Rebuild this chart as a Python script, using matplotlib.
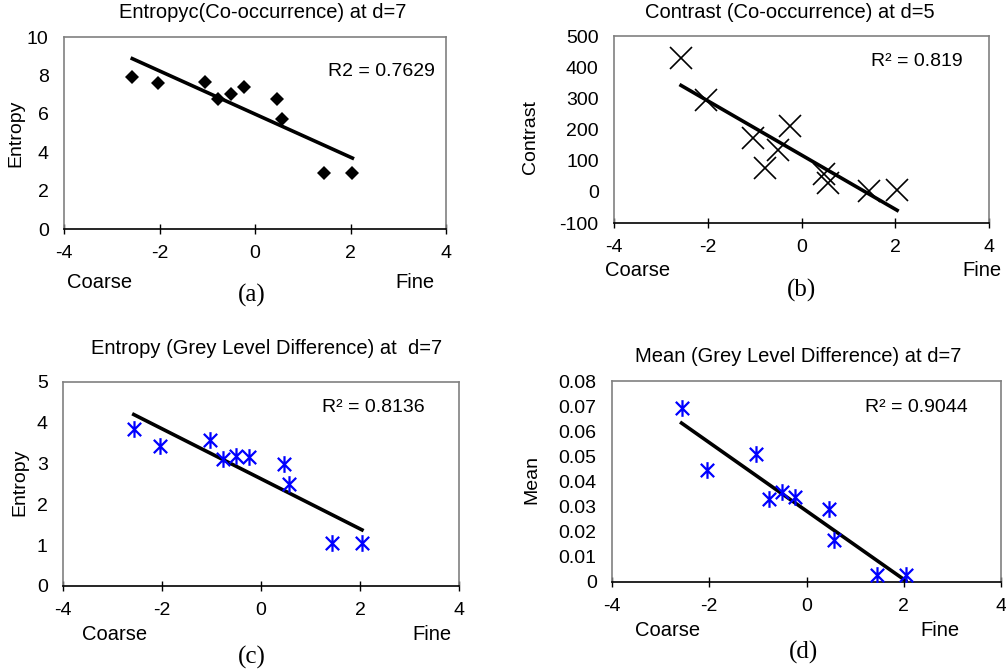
import numpy as np
import matplotlib
matplotlib.use('Agg')
import matplotlib.pyplot as plt
from matplotlib.path import Path

plt.rcParams['font.family'] = ['Liberation Sans', 'DejaVu Sans']
plt.rcParams['axes.unicode_minus'] = False

# coarseness score of the 10 samples (same for every panel)
x_data = [-2.57, -2.04, -1.04, -0.77, -0.51, -0.24, 0.47, 0.56, 1.44, 2.04]

entropy_co = [7.94, 7.6, 7.68, 6.78, 7.04, 7.42, 6.78, 5.73, 2.94, 2.94]
contrast_co = [431, 294, 174, 77, 134, 211, 56, 28, 2, 5]
entropy_gld = [3.85, 3.44, 3.57, 3.12, 3.19, 3.16, 2.98, 2.49, 1.05, 1.05]
mean_gld = [0.0691, 0.0446, 0.0509, 0.0331, 0.036, 0.034, 0.0291, 0.0168, 0.0027, 0.0027]

titles = ['Entropyc(Co-occurrence) at d=7', 'Contrast (Co-occurrence) at d=5',
          'Entropy (Grey Level Difference) at  d=7', 'Mean (Grey Level Difference) at d=7']
ylabels = ['Entropy', 'Contrast', 'Entropy', 'Mean']
r2_texts = ['R2 = 0.7629', 'R\u00b2 = 0.819', 'R\u00b2 = 0.8136', 'R\u00b2 = 0.9044']
panel_tags = ['(a)', '(b)', '(c)', '(d)']

W, H = 1006, 670
fig = plt.figure(figsize=(W / 100, H / 100), dpi=100)
fig.patch.set_facecolor('white')

# asterisk marker like Excel: an x with a vertical bar
star = Path([(-1, -1), (1, 1), (-1, 1), (1, -1), (0, -1.25), (0, 1.25)],
            [Path.MOVETO, Path.LINETO, Path.MOVETO, Path.LINETO, Path.MOVETO, Path.LINETO])

def px_axes(l, t, r, b):
    return fig.add_axes([l / W, 1 - b / H, (r - l) / W, (b - t) / H])

def ftext(x, y, s, **kw):
    fig.text(x / W, 1 - y / H, s, **kw)

panels = [
    dict(box=(64, 37, 446, 229), y=entropy_co, ylim=(0, 10), yticks=np.arange(0, 11, 2),
         marker='D', ms=7.5, color='black', mew=0,
         title=(263, 13), ylab=(16, 133), coarse=(100, 283), fine=(415, 283), tag=(252, 295),
         r2=(435, 71)),
    dict(box=(614, 36, 989, 223), y=contrast_co, ylim=(-100, 500), yticks=np.arange(-100, 501, 100),
         marker='x', ms=16, color='black', mew=1.2,
         title=(790, 13), ylab=(530, 137), coarse=(638, 270), fine=(982, 270), tag=(802, 290),
         r2=(963, 62)),
    dict(box=(63, 382, 459, 586), y=entropy_gld, ylim=(0, 5), yticks=np.arange(0, 6, 1),
         marker=star, ms=12, color='#0000ff', mew=1.6,
         title=(267, 348), ylab=(20, 482), coarse=(115, 635), fine=(432, 635), tag=(252, 657),
         r2=(425, 407)),
    dict(box=(612, 381, 1001, 582), y=mean_gld, ylim=(0, 0.08), yticks=np.arange(0, 0.081, 0.01),
         marker=star, ms=12, color='#0000ff', mew=1.6,
         title=(798, 356), ylab=(532, 480), coarse=(668, 631), fine=(940, 631), tag=(804, 652),
         r2=(968, 408)),
]

for i, p in enumerate(panels):
    ax = px_axes(*p['box'])
    ax.plot(x_data, p['y'], linestyle='none', marker=p['marker'], ms=p['ms'],
            color=p['color'], mec=p['color'], mew=p['mew'], zorder=3)
    k, c = np.polyfit(x_data, p['y'], 1)
    xs = np.array([min(x_data), max(x_data)])
    ax.plot(xs, k * xs + c, color='black', lw=2.6, zorder=2)
    ax.set_xlim(-4, 4)
    ax.set_ylim(*p['ylim'])
    ax.set_xticks([-4, -2, 0, 2, 4])
    ax.set_yticks(p['yticks'])
    ax.set_yticklabels(['{:g}'.format(round(v, 2)) for v in p['yticks']])
    ax.tick_params(axis='x', direction='inout', length=7, width=1, labelsize=14, pad=8)
    ax.tick_params(axis='y', length=0, labelsize=14, pad=11)
    for s in ['left', 'top', 'right']:
        ax.spines[s].set_color('#808080')
        ax.spines[s].set_linewidth(1.2)
    ax.spines['bottom'].set_color('black')
    ax.spines['bottom'].set_linewidth(1.2)

    ftext(*p['title'], titles[i], ha='center', va='center', fontsize=14.5)
    ftext(*p['ylab'], ylabels[i], ha='center', va='center', fontsize=14, rotation=90)
    ftext(*p['coarse'], 'Coarse', ha='center', va='center', fontsize=14.5)
    ftext(*p['fine'], 'Fine', ha='center', va='center', fontsize=14.5)
    ftext(*p['tag'], panel_tags[i], ha='center', va='center', fontsize=18,
          family='Liberation Serif')
    ftext(*p['r2'], r2_texts[i], ha='right', va='center', fontsize=14)

fig.savefig('out.png', dpi=100, facecolor='white')
